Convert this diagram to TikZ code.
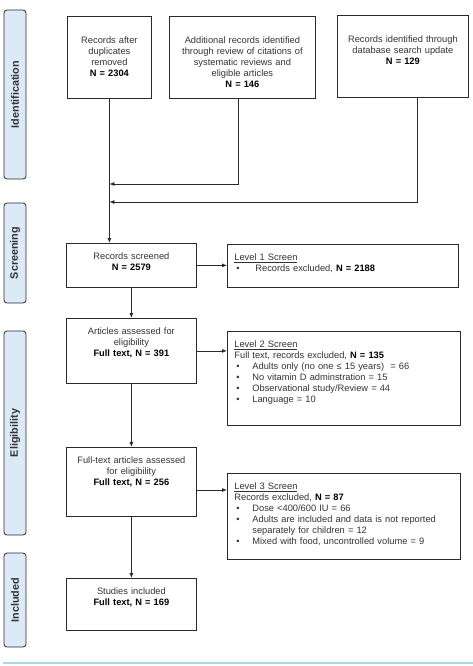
\documentclass[tikz,border=0pt]{standalone}
\usepackage{fontspec}
\setmainfont{Liberation Sans}
\usepackage{xcolor}
\usetikzlibrary{arrows.meta}
\definecolor{tabblue}{HTML}{DCEAF8}
\definecolor{edgegray}{HTML}{2A2A2A}
\definecolor{txtgray}{HTML}{333333}
\definecolor{rulecyan}{HTML}{A8D8F0}
\newcommand{\bul}{\hspace*{2pt}\makebox[16pt][l]{\textbullet}}
\newcommand{\nval}[1]{\textcolor{black}{\textbf{#1}}}

\begin{document}
\begin{tikzpicture}[x=1pt, y=-1pt,
    box/.style={draw=edgegray, line width=0.8pt, text=txtgray, anchor=north west,
        font=\fontsize{9.3}{11}\selectfont, align=center, inner xsep=3pt, inner ysep=4pt},
    listbox/.style={box, align=left, inner xsep=7pt, text width=219pt},
    tab/.style={draw=edgegray, fill=tabblue, rounded corners=3pt, line width=0.8pt, rotate=90,
        minimum height=22pt, inner sep=0pt, text=txtgray, font=\fontsize{10.8}{11}\selectfont\bfseries},
    arr/.style={-{Latex[length=5pt,width=4pt]}, line width=0.8pt, draw=edgegray}]
        \useasboundingbox (0,0) rectangle (473,666);
        \node (ident) at (15, 94.5) [tab, minimum width=169pt] {Identification};
        \node (screen) at (15, 253) [tab, minimum width=100pt] {Screening};
        \node (elig) at (15, 433) [tab, minimum width=204pt] {Eligibility};
        \node (incl) at (15, 600) [tab, minimum width=94pt] {Included};
        \node (dup) at (67, 16) [box, text width=78pt, text height=23pt, text depth=51pt] {Records after\\duplicates\\removed\\\nval{N = 2304}};
        \node (cit) at (169, 16) [box, text width=140pt, text height=23pt, text depth=51pt] {Additional records identified\\through review of citations of\\systematic reviews and\\eligible articles\\\nval{N = 146}};
        \node (upd) at (337, 15) [box, text width=125pt, text height=23pt, text depth=51pt] {Records identified through\\database search update\\\nval{N = 129}};
        \node (screened) at (66, 243) [box, text width=124pt, text height=12pt, text depth=24pt] {Records screened\\\nval{N = 2579}};
        \node (lvl1) at (227, 244) [listbox, text width=217pt, text height=12pt, text depth=23pt] {\underline{Level 1 Screen}\\\bul\hspace*{3pt}Records excluded, \nval{N = 2188}};
        \node (assess) at (66, 318) [box, text width=124pt, text height=12pt, text depth=45pt] {Articles assessed for\\eligibility\\\nval{Full text, N = 391}};
        \node (lvl2) at (227, 331) [listbox, text height=12pt, text depth=74pt] {\underline{Level 2 Screen}\\Full text, records excluded, \nval{N = 135}\\\bul Adults only (no one ≤ 15 years)~ = 66\\\bul No vitamin D adminstration = 15\\\bul Observational study/Review = 44\\\bul Language = 10};
        \node (fulltext) at (66, 447) [box, text width=124pt, text height=12pt, text depth=49pt] {Full-text articles assessed\\for eligibility\\\nval{Full text, N = 256}};
        \node (lvl3) at (227, 473) [listbox, text height=12pt, text depth=66pt] {\underline{Level 3 Screen}\\Records excluded, \nval{N = 87}\\\bul Dose <400/600 IU = 66\\\bul Adults are included and data is not reported\\\hspace*{18pt}separately for children = 12\\\bul Mixed with food, uncontrolled volume = 9};
        \node (studies) at (66, 578) [box, text width=124pt, text height=12pt, text depth=32pt] {Studies included\\\nval{Full text, N = 169}};
        \coordinate (j1) at (238, 184);
        \coordinate (j2) at (417, 202);
        \coordinate (j3) at (0, 490);
        \draw [arr] (dup.south) -- (dup.south |- screened.north);
        \draw [arr] (cit.south -| j1) |- (dup.south |- j1);
        \draw [arr] (upd.south -| j2) |- (dup.south |- j2);
        \draw [arr] (screened.east) -- (screened.east -| lvl1.west);
        \draw [arr] (screened.south) -- (assess.north);
        \draw [arr] (assess.east) -- (assess.east -| lvl2.west);
        \draw [arr] (assess.south) -- (fulltext.north);
        \draw [arr] (fulltext.east |- j3) -- (lvl3.west |- j3);
        \draw [arr] (fulltext.south) -- (studies.north);
        \draw [rulecyan, line width=2pt] (3, 663) -- (473, 663);
\end{tikzpicture}
\end{document}
